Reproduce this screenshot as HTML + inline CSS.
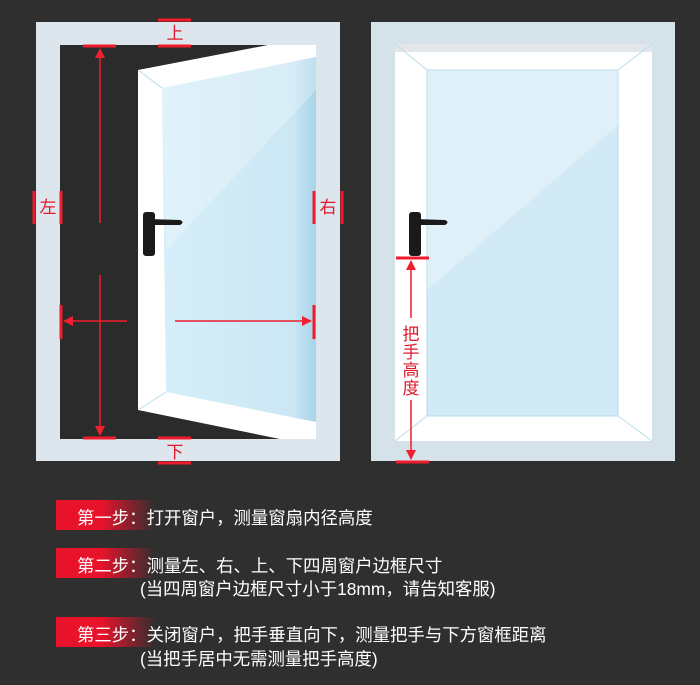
<!DOCTYPE html>
<html><head><meta charset="utf-8"><style>
html,body{margin:0;padding:0;background:#2f2f2f;width:700px;height:685px;overflow:hidden;font-family:"Liberation Sans","Noto Sans CJK SC",sans-serif}
svg{position:absolute;left:0;top:0}
.row{position:absolute;color:#fff;font-size:17.4px;white-space:nowrap}
.lab{position:absolute;left:56px;width:100px;height:30px;background:linear-gradient(90deg,#e8132a 0%,#e8132a 45%,rgba(232,19,42,0) 100%)}
</style></head><body>
<svg width="700" height="685" viewBox="0 0 700 685">
<defs>
<linearGradient id="gl" x1="0" y1="0" x2="1" y2="0"><stop offset="0" stop-color="#d6eef9"/><stop offset="0.85" stop-color="#cbe7f4"/><stop offset="1" stop-color="#a8d3e8"/></linearGradient>
<marker id="ah" markerWidth="10" markerHeight="10" refX="9" refY="5" orient="auto" markerUnits="userSpaceOnUse"><path d="M0,0 L10,5 L0,10 z" fill="#ef2030"/></marker>
</defs>
<!-- left frame -->
<rect x="36" y="22" width="304" height="439" fill="#dde6ec"/>
<rect x="60" y="45" width="256" height="394" fill="#2b2b2b"/>
<polygon points="138,70 268,45 316,45 316,439 280,439 138,410" fill="#ffffff"/>
<polygon points="162,88 316,57 316,422 166,392" fill="url(#gl)"/>
<polygon points="162,88 316,57 316,90 166,250" fill="#ffffff" opacity="0.25"/>
<line x1="138" y1="70" x2="162" y2="88" stroke="#b9dcec"/>
<line x1="138" y1="410" x2="166" y2="392" stroke="#b9dcec"/>
<rect x="143" y="212" width="12" height="44" rx="3" fill="#1a1a1a"/>
<path d="M148,219 L180,220 Q185,222 180,225 L148,225 z" fill="#1a1a1a"/>
<!-- right frame -->
<rect x="371" y="22" width="304" height="439" fill="#d6e2e9"/>
<rect x="395" y="44" width="257" height="397" fill="#ffffff"/>
<rect x="395" y="44" width="257" height="8" fill="#e4e7ea"/>
<rect x="427" y="70" width="191" height="346" fill="#d2eaf6" stroke="#b5d9ea"/>
<polygon points="427,70 618,70 618,125 427,290" fill="#ffffff" opacity="0.3"/>
<g stroke="#b9dcec"><line x1="395" y1="44" x2="427" y2="70"/><line x1="652" y1="44" x2="618" y2="70"/><line x1="395" y1="441" x2="427" y2="416"/><line x1="652" y1="441" x2="618" y2="416"/></g>
<rect x="409" y="212" width="12" height="44" rx="3" fill="#1a1a1a"/>
<path d="M414,219 L445,220 Q450,222 445,225 L414,225 z" fill="#1a1a1a"/>
<!-- marks -->
<g stroke="#ef1c2e" stroke-width="3" fill="none">
<line x1="158" y1="20" x2="191" y2="20"/><line x1="158" y1="46" x2="191" y2="46"/>
<line x1="158" y1="438" x2="191" y2="438"/><line x1="158" y1="463" x2="191" y2="463"/>
<line x1="83" y1="46" x2="116" y2="46"/><line x1="83" y1="438" x2="116" y2="438"/>
<line x1="34" y1="191" x2="34" y2="224"/><line x1="61" y1="191" x2="61" y2="224"/>
<line x1="314" y1="191" x2="314" y2="224"/><line x1="342" y1="191" x2="342" y2="224"/>
<line x1="61" y1="305" x2="61" y2="339"/><line x1="314" y1="305" x2="314" y2="339"/>
<line x1="396" y1="258" x2="429" y2="258"/><line x1="396" y1="462" x2="429" y2="462"/>
</g>
<g stroke="#ef1c2e" stroke-width="1.5" fill="none">
<line x1="100" y1="223" x2="100" y2="49" marker-end="url(#ah)"/>
<line x1="100" y1="275" x2="100" y2="435" marker-end="url(#ah)"/>
<line x1="127" y1="321" x2="64" y2="321" marker-end="url(#ah)"/>
<line x1="175" y1="321" x2="311" y2="321" marker-end="url(#ah)"/>
<line x1="411" y1="318" x2="411" y2="261" marker-end="url(#ah)"/>
<line x1="411" y1="400" x2="411" y2="459" marker-end="url(#ah)"/>
</g>
<g fill="#e0192d" font-size="17" text-anchor="middle" font-family="Liberation Sans,Noto Sans CJK SC,sans-serif">
<text x="175" y="39">上</text><text x="175" y="458">下</text>
<text x="48" y="213">左</text><text x="328" y="213">右</text>
<text x="411" y="340">把</text><text x="411" y="358">手</text><text x="411" y="376">高</text><text x="411" y="394">度</text>
</g>
</svg>
<div class="lab" style="top:500px"></div>
<div class="lab" style="top:548px"></div>
<div class="lab" style="top:617px"></div>
<div class="row" style="left:77px;top:505px">第一步：打开窗户，测量窗扇内径高度</div>
<div class="row" style="left:77px;top:553px">第二步：测量左、右、上、下四周窗户边框尺寸</div>
<div class="row" style="left:140px;top:576px">(当四周窗户边框尺寸小于18mm，请告知客服)</div>
<div class="row" style="left:77px;top:622px">第三步：关闭窗户，把手垂直向下，测量把手与下方窗框距离</div>
<div class="row" style="left:140px;top:646px">(当把手居中无需测量把手高度)</div>
</body></html>
